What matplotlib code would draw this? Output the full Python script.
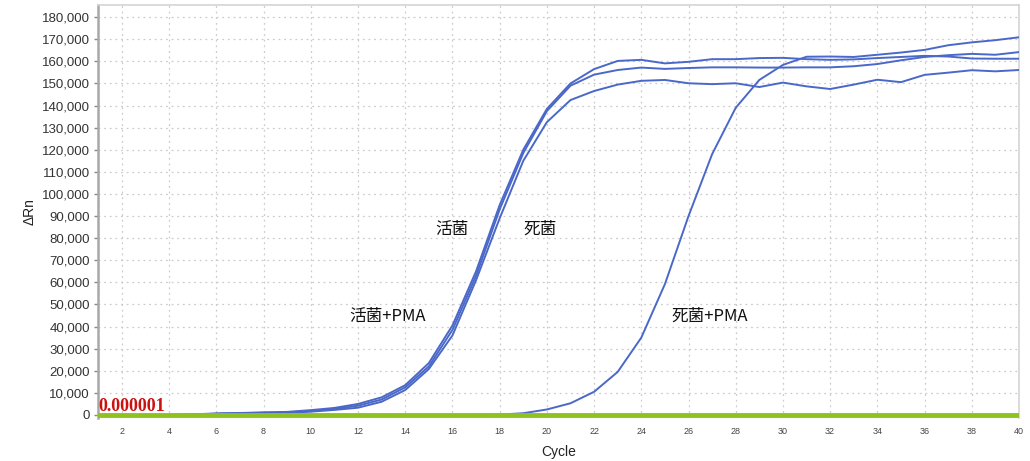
import matplotlib
matplotlib.use("Agg")
import matplotlib.pyplot as plt
from matplotlib.ticker import FuncFormatter, MultipleLocator

plt.rcParams['font.family'] = ['Liberation Sans', 'Noto Sans CJK SC', 'DejaVu Sans']

cycles = list(range(1, 41))

curve_a = [0, 0, 0, 0, 300, 700, 900, 1200, 1400, 2200,
           3200, 5000, 8000, 13500, 23500, 40500, 65000, 95000, 120000, 138500,
           150000, 156500, 160200, 160700, 159100, 159800, 161000, 161000, 161500, 161600,
           161000, 160700, 160900, 161500, 162000, 162500, 162200, 161300, 161200, 161200]
curve_b = [0, 0, 0, 0, 200, 600, 800, 1000, 1200, 1800,
           2700, 4200, 7000, 12500, 22000, 38500, 63000, 93000, 118500, 137500,
           149000, 154000, 156100, 157200, 156600, 157000, 157300, 157300, 157200, 157200,
           157300, 157300, 157800, 158800, 160500, 162000, 162800, 163400, 163000, 164200]
curve_c = [0, 0, 0, 0, 100, 500, 700, 800, 1000, 1500,
           2300, 3300, 6000, 11300, 20800, 36000, 61000, 89000, 115000, 132500,
           142500, 146600, 149500, 151200, 151600, 150100, 149700, 150100, 148400, 150400,
           148700, 147500, 149500, 151700, 150600, 153900, 154900, 156000, 155500, 156100]
curve_d = [0, 0, 0, 0, 0, 0, 0, 0, 0, 0,
           0, 0, 0, 0, 0, 0, 0, 200, 800, 2500,
           5300, 10500, 19500, 35000, 59200, 90000, 118000, 139000, 151600, 158400,
           162100, 162200, 162000, 163000, 164000, 165200, 167300, 168600, 169600, 170900]

threshold = 0.000001
labels = ["活菌", "死菌", "活菌+PMA", "死菌+PMA"]
label_pos = [(15.97, 84000), (19.7, 84000), (13.25, 44500), (26.9, 44500)]

fig = plt.figure(figsize=(10.30, 4.61), dpi=100)
ax = fig.add_axes([0.0955, 0.0926, 0.8938, 0.8965])

ax.set_xlim(1, 40)
ax.set_ylim(-1500, 185500)

ax.set_xticks(range(2, 41, 2))
ax.yaxis.set_major_locator(MultipleLocator(10000))
ax.yaxis.set_major_formatter(FuncFormatter(lambda v, p: f"{int(v):,}"))

ax.grid(True, color='#cccccc', linestyle=(0, (1.5, 3)), linewidth=0.9)
ax.set_axisbelow(True)

blue = '#4a68c8'
for ys in (curve_a, curve_b, curve_c, curve_d):
    ax.plot(cycles, ys, color=blue, linewidth=1.4, zorder=3)

ax.axhline(threshold, color='#8dc21f', linewidth=3.5, zorder=4)
ax.text(1.0, threshold + 200, "0.000001", color='#cc1111', fontsize=13,
        family='Liberation Serif', fontweight='bold', va='bottom', ha='left', zorder=5)

for t, (x, y) in zip(labels, label_pos):
    ax.text(x, y, t, fontsize=12, family=['Noto Sans CJK SC', 'DejaVu Sans'],
            ha='center', va='center', color='#111111', zorder=5)

for s in ('top', 'right'):
    ax.spines[s].set_color('#d4d4d4')
    ax.spines[s].set_linewidth(1.2)
ax.spines['left'].set_color('#a8a8a8')
ax.spines['left'].set_linewidth(1.8)
ax.spines['bottom'].set_visible(False)

ax.tick_params(axis='y', labelsize=9.5, labelcolor='#333333', color='#888888',
               length=3, width=1, pad=3)
ax.tick_params(axis='x', labelsize=6.5, labelcolor='#444444', length=0, pad=6)

ax.set_xlabel("Cycle", fontsize=10, color='#222222', labelpad=7)
ax.set_ylabel("ΔRn", fontsize=10, color='#222222', labelpad=4)

fig.savefig("out.png", dpi=100)
